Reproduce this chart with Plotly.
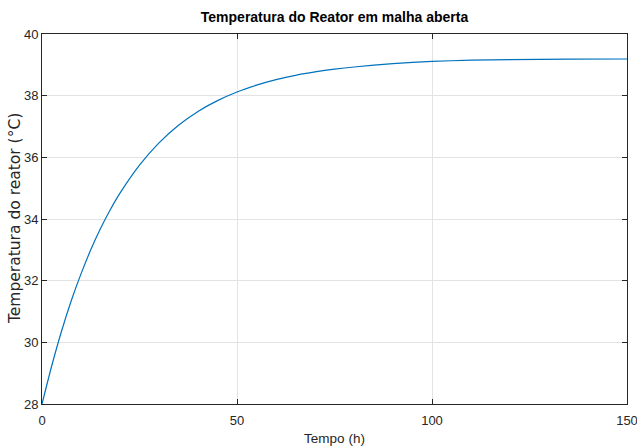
import plotly.graph_objects as go

# Reactor temperature, open-loop response
tempo_h = [0, 2.5, 5, 7.5, 10, 12.5, 15, 17.5, 20, 25, 30, 35, 40, 45, 50,
           55, 60, 65, 70, 75, 80, 90, 100, 110, 120, 135, 150]
temperatura_c = [28.0, 29.24, 30.36, 31.35, 32.22, 33.0, 33.69, 34.3, 34.84,
                 35.75, 36.47, 37.04, 37.49, 37.84, 38.12, 38.34, 38.52, 38.66,
                 38.77, 38.86, 38.93, 39.04, 39.11, 39.15, 39.17, 39.185, 39.19]

x_ticks = [0, 50, 100, 150]
y_ticks = [28, 30, 32, 34, 36, 38, 40]

sans = "Liberation Sans, Arial, Helvetica, sans-serif"
wide = "DejaVu Sans, Verdana, sans-serif"
axis_color = "#262626"
grid_color = "#e3e3e3"

# plot-area edges in pixels
left, right, top, bottom = 42, 627, 34, 404
width, height = 637, 448

fig = go.Figure()
fig.add_trace(go.Scatter(
    x=tempo_h, y=temperatura_c, mode="lines",
    line=dict(color="#0072BD", width=1.2, shape="spline", smoothing=0.6),
    showlegend=False,
))

common = dict(
    showline=True, linecolor=axis_color, linewidth=1, mirror="ticks",
    ticks="inside", ticklen=5, tickcolor=axis_color, tickwidth=1,
    showgrid=True, gridcolor=grid_color, gridwidth=1, zeroline=False,
    tickfont=dict(family=sans, size=13, color=axis_color),
    ticklabeloverflow="allow",
)

fig.update_xaxes(
    range=[0, 150], tickvals=x_ticks, ticktext=[str(v) for v in x_ticks],
    ticklabelstandoff=4,
    title=dict(text="Tempo (h)", font=dict(family=sans, size=13.5, color=axis_color),
               standoff=6),
    **common,
)
fig.update_yaxes(
    range=[28, 40], tickvals=y_ticks, ticktext=[str(v) for v in y_ticks],
    **common,
)

# y-axis title placed as a rotated annotation
fig.add_annotation(
    text="Temperatura do reator (°C)", textangle=-90,
    xref="paper", yref="paper",
    x=(15 - left) / (right - left), y=0.5,
    xanchor="center", yanchor="middle", showarrow=False,
    font=dict(family=wide, size=15.5, color=axis_color),
)

fig.update_layout(
    width=width, height=height,
    margin=dict(l=left, r=width - right, t=top, b=height - bottom, autoexpand=False),
    paper_bgcolor="white", plot_bgcolor="white",
    title=dict(text="<b>Temperatura do Reator em malha aberta</b>",
               font=dict(family=sans, size=14, color="black"),
               x=(left + right) / 2 / width, xanchor="center",
               y=1 - 17 / height, yanchor="middle"),
)

fig.write_html("out.html")
